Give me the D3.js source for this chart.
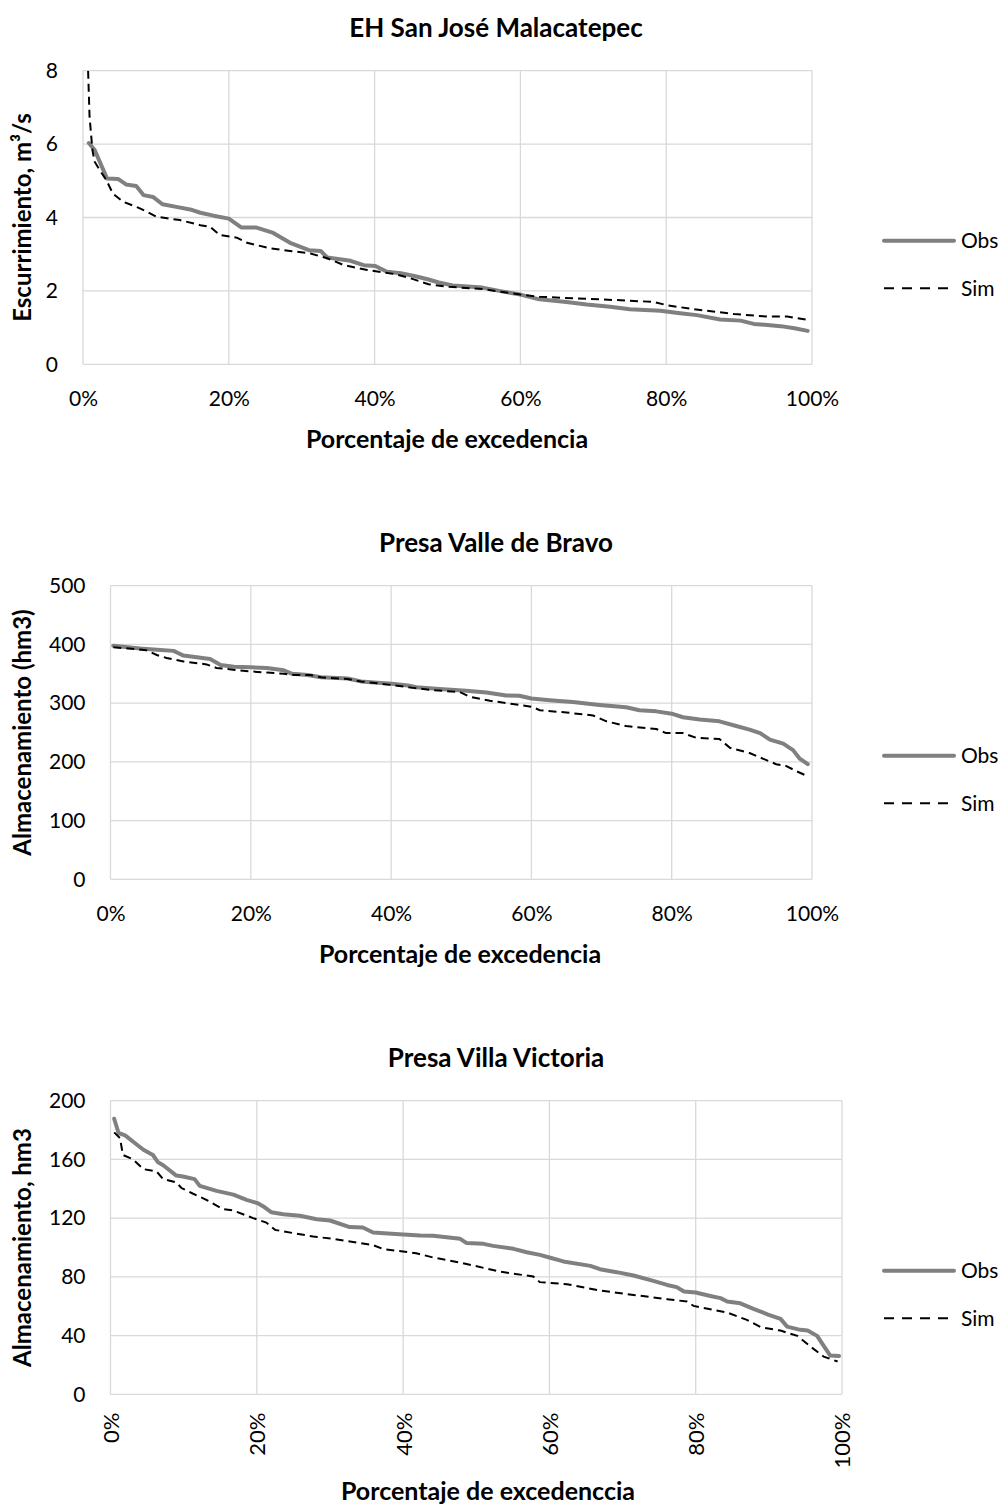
<!DOCTYPE html>
<html>
<head>
<meta charset="utf-8">
<script src="https://cdn.jsdelivr.net/npm/d3@7"></script>
<style>
  html, body { margin: 0; padding: 0; background: #fff; }
  svg { display: block; font-family: Lato, "Open Sans", sans-serif; }
</style>
</head>
<body>
<svg id="chart" width="1008" height="1508"></svg>
<script>
// ---------- Data ----------
const xTicks = [0, 20, 40, 60, 80, 100];
const seriesNames = ["Obs", "Sim"];

// Chart 1: EH San José Malacatepec
const c1Ticks = [0, 2, 4, 6, 8];
const c1ObsX = [0.8,1.6,3.3,4.8,5.9,7.3,8.3,9.6,10.9,12.8,14.7,16.1,17.9,20,21.7,23.7,26.1,28.4,31,32.6,33.5,36.7,38.5,40.1,41.7,43.6,45.6,47.4,48.8,50.7,54.8,57.1,60,62.6,66.3,69.1,72.3,75,79.2,81.9,84.2,87.4,90.2,92,95.7,97.6,99.4];
const c1ObsY = [6.03,5.84,5.06,5.05,4.90,4.86,4.61,4.56,4.36,4.29,4.22,4.13,4.05,3.97,3.73,3.73,3.58,3.31,3.11,3.09,2.91,2.82,2.70,2.68,2.52,2.48,2.40,2.31,2.23,2.15,2.09,2.00,1.90,1.77,1.70,1.63,1.57,1.50,1.46,1.39,1.34,1.22,1.19,1.10,1.04,0.98,0.91];
const c1SimX = [0.7,0.9,1.3,1.6,2.3,3.2,4.1,5.5,7.8,10.1,13.3,16.1,17.4,18.8,21.1,22.5,25.7,28.4,31.2,33.5,35.8,39,42.7,44.7,47.4,50.2,54.8,60,62.6,67.2,73.2,78.3,80.1,83.8,89.3,93.9,96.6,99.4];
const c1SimY = [8.0,6.74,5.83,5.52,5.29,5.02,4.65,4.43,4.25,4.02,3.93,3.79,3.75,3.52,3.45,3.31,3.16,3.09,3.02,2.89,2.70,2.57,2.46,2.36,2.18,2.11,2.05,1.90,1.84,1.80,1.75,1.70,1.61,1.50,1.37,1.30,1.30,1.21];

// Chart 2: Presa Valle de Bravo
const c2Ticks = [0, 100, 200, 300, 400, 500];
const c2ObsX = [0.4,4.2,6.6,9.0,9.7,10.4,12.3,14.2,15.7,17.6,20,22.3,24.7,25.9,28.1,30,33.8,35.7,37.6,40.1,42.4,43.6,46.9,50.7,53.6,56.4,58.3,60,62.6,65.9,69.7,73.5,75.4,77.8,80,81.6,84,86.8,89.2,91.1,92.6,94,95.9,97.3,98.2,99.4];
const c2ObsY = [397.7,393,391,389,385,381,378,375,365,362,361,360,356,350,348,344,342,337,335,333,330,327,324,321,318,313,312.5,308,305,302,297,293,288,286,282,276,272,269,261,255,249,238,231,220,206,196];
const c2SimX = [0.4,3.7,5.1,6.6,8.0,10.4,13.7,15.1,17.5,20,22.3,24.7,26.1,28.5,30,33.8,35.7,40,43.1,46,49.8,51.2,54.1,58.3,60,61.2,65,68.8,70.7,73.5,77.8,79.2,81.6,83.5,86.8,88.3,91.1,94.9,96.3,97.8,99.3];
const c2SimY = [395,392,390,382,377,371,366,360,357,354,352,350,348,348,344,341,337,331,326,322,319,311,304,297,294,288,284,279,269,261,256,249,249,241,239,224,215,196,193,184,176];

// Chart 3: Presa Villa Victoria
const c3Ticks = [0, 40, 80, 120, 160, 200];
const c3ObsX = [0.5,1.1,2.0,3.1,4.5,5.8,6.5,7.2,9.0,9.9,11.5,12.2,14.5,16.8,18.6,20.2,20.9,22,23.6,25.9,28.2,30,32.7,34.5,35.9,39.5,42.3,44.1,47.8,48.7,51,52.3,55.1,56.9,58.7,60,61.9,65.6,66.9,69.2,71.5,74.2,76.1,77.4,78.4,80,82,83.4,84.3,86.1,87.9,89.8,91.6,92.5,94.3,95.3,96.6,97.5,98.4,99.6];
const c3ObsY = [187.7,178,176.4,172,166.6,163,158,156,149,148.4,146.6,142,138.6,136,132.5,130,128,124,122.7,121.6,119.3,118.4,113.9,113.6,110.2,109,108.2,108,105.9,103,102.5,101.1,99.1,96.8,95,93.2,90.5,87.5,85.2,83.2,80.9,77.3,74.5,73,70,69.3,67,65.5,63.2,62,58.2,54.5,51.4,46.1,43.9,43.4,39.8,33,26.4,26.1];
const c3SimX = [0.5,1.3,1.7,3.1,4.5,6.3,7.2,9,9.7,11.3,13.1,15.4,16.8,19.5,21.3,22.5,25,27.7,30.4,34.1,35.9,37.3,40,41.8,44.1,48.2,53.2,57.8,58.7,62.4,66.9,71.5,76.1,78.8,79.7,84.3,87,88.9,91.6,93.9,95.7,97.5,99.4];
const c3SimY = [178.4,174.5,163,160,153.4,151.8,146.6,144.3,140.5,136.6,132.5,126.1,125.2,120,117,112,109.8,107.5,105.9,103,101.6,98.9,97.3,96.1,93.2,89.3,83.6,80.2,76.4,75,70.7,67.7,64.8,63.2,60.2,55.7,50.7,45.7,43.4,39.8,32.5,25.7,22.3];

const titles = ["EH San José Malacatepec", "Presa Valle de Bravo", "Presa Villa Victoria"];
const yTitles = ["Escurrimiento, m³/s", "Almacenamiento (hm3)", "Almacenamiento, hm3"];
const xTitles = ["Porcentaje de excedencia", "Porcentaje de excedencia", "Porcentaje de excedenccia"];

// ---------- Drawing ----------
const svg = d3.select("#chart");
const zip = (xs, ys) => xs.map((x, i) => ({x, y: ys[i]}));

const charts = [
  {title: titles[0], yTitle: yTitles[0], xTitle: xTitles[0], ticks: c1Ticks,
   obs: zip(c1ObsX, c1ObsY), sim: zip(c1SimX, c1SimY),
   left: 83, right: 812, top: 70.7, bottom: 364.3, xTitleX: 447, xTitleY: 448, rotated: false},
  {title: titles[1], yTitle: yTitles[1], xTitle: xTitles[1], ticks: c2Ticks,
   obs: zip(c2ObsX, c2ObsY), sim: zip(c2SimX, c2SimY),
   left: 110.5, right: 812, top: 585.7, bottom: 879.3, xTitleX: 460, xTitleY: 963, rotated: false},
  {title: titles[2], yTitle: yTitles[2], xTitle: xTitles[2], ticks: c3Ticks,
   obs: zip(c3ObsX, c3ObsY), sim: zip(c3SimX, c3SimY),
   left: 110.5, right: 842, top: 1100.7, bottom: 1394.3, xTitleX: 488, xTitleY: 1500, rotated: true}
];

const gridColor = "#d9d9d9";
const obsColor = "#808080";
const textColor = "#000";
const tickFont = 21;
const axisTitleFont = 25;
const titleFont = 26;

charts.forEach((c, ci) => {
  const g = svg.append("g");
  const x = d3.scaleLinear().domain([0, 100]).range([c.left, c.right]);
  const y = d3.scaleLinear().domain([0, d3.max(c.ticks)]).range([c.bottom, c.top]);

  // gridlines
  g.append("g").selectAll("line").data(c.ticks).join("line")
    .attr("x1", c.left).attr("x2", c.right)
    .attr("y1", d => y(d)).attr("y2", d => y(d))
    .attr("stroke", gridColor).attr("stroke-width", 1.3);
  g.append("g").selectAll("line").data(xTicks).join("line")
    .attr("x1", d => x(d)).attr("x2", d => x(d))
    .attr("y1", c.top).attr("y2", c.bottom)
    .attr("stroke", gridColor).attr("stroke-width", 1.3);

  // y axis labels
  const ya = g.append("g").attr("transform", `translate(${c.left},0)`)
    .call(d3.axisLeft(y).tickValues(c.ticks).tickSize(0).tickPadding(25));
  ya.select(".domain").remove();
  ya.selectAll("text").attr("font-size", tickFont).attr("font-family", "Lato, sans-serif").attr("fill", textColor);

  // x axis labels
  const xa = g.append("g").attr("transform", `translate(0,${c.bottom})`)
    .call(d3.axisBottom(x).tickValues(xTicks).tickSize(0).tickFormat(d => d + "%"));
  xa.select(".domain").remove();
  xa.selectAll("text").attr("font-family", "Lato, sans-serif").attr("fill", textColor);
  if (c.rotated) {
    xa.selectAll("text")
      .attr("font-size", tickFont + 1)
      .attr("transform", "rotate(-90)")
      .attr("x", -18.4).attr("y", 0).attr("dy", "0.36em")
      .attr("text-anchor", "end");
  } else {
    xa.selectAll("text").attr("font-size", tickFont).attr("y", 42).attr("dy", 0);
  }

  // clip
  const clipId = "clip" + ci;
  svg.append("clipPath").attr("id", clipId).append("rect")
    .attr("x", c.left - 5).attr("y", c.top).attr("width", c.right - c.left + 10).attr("height", c.bottom - c.top);

  const line = d3.line().x(d => x(d.x)).y(d => y(d.y));
  g.append("path").datum(c.obs).attr("d", line).attr("clip-path", `url(#${clipId})`)
    .attr("fill", "none").attr("stroke", obsColor).attr("stroke-width", 4)
    .attr("stroke-linejoin", "round").attr("stroke-linecap", "round");
  g.append("path").datum(c.sim).attr("d", line).attr("clip-path", `url(#${clipId})`)
    .attr("fill", "none").attr("stroke", "#000").attr("stroke-width", 2)
    .attr("stroke-dasharray", "8,5");

  // titles
  g.append("text").attr("x", 496).attr("y", c.top - 34)
    .attr("text-anchor", "middle").attr("font-size", titleFont).attr("font-weight", "bold").text(c.title);
  g.append("text").attr("x", c.xTitleX).attr("y", c.xTitleY)
    .attr("text-anchor", "middle").attr("font-size", axisTitleFont).attr("font-weight", "bold").text(c.xTitle);
  g.append("text").attr("transform", `translate(22.5,${(c.top + c.bottom) / 2}) rotate(-90)`)
    .attr("dy", "0.35em").attr("text-anchor", "middle").attr("font-size", 24).attr("font-weight", "bold").text(c.yTitle);

  // legend
  const lg = g.append("g");
  seriesNames.forEach((name, i) => {
    const ly = c.top + 170 + i * 47.6;
    lg.append("line").attr("x1", 884).attr("x2", 954).attr("y1", ly).attr("y2", ly)
      .attr("stroke", i === 0 ? obsColor : "#000")
      .attr("stroke-width", i === 0 ? 4 : 2)
      .attr("stroke-linecap", i === 0 ? "round" : "butt")
      .attr("stroke-dasharray", i === 0 ? null : "10,8");
    lg.append("text").attr("x", 961).attr("y", ly).attr("dy", "0.35em")
      .attr("font-size", tickFont).text(name);
  });
});
</script>
</body>
</html>
